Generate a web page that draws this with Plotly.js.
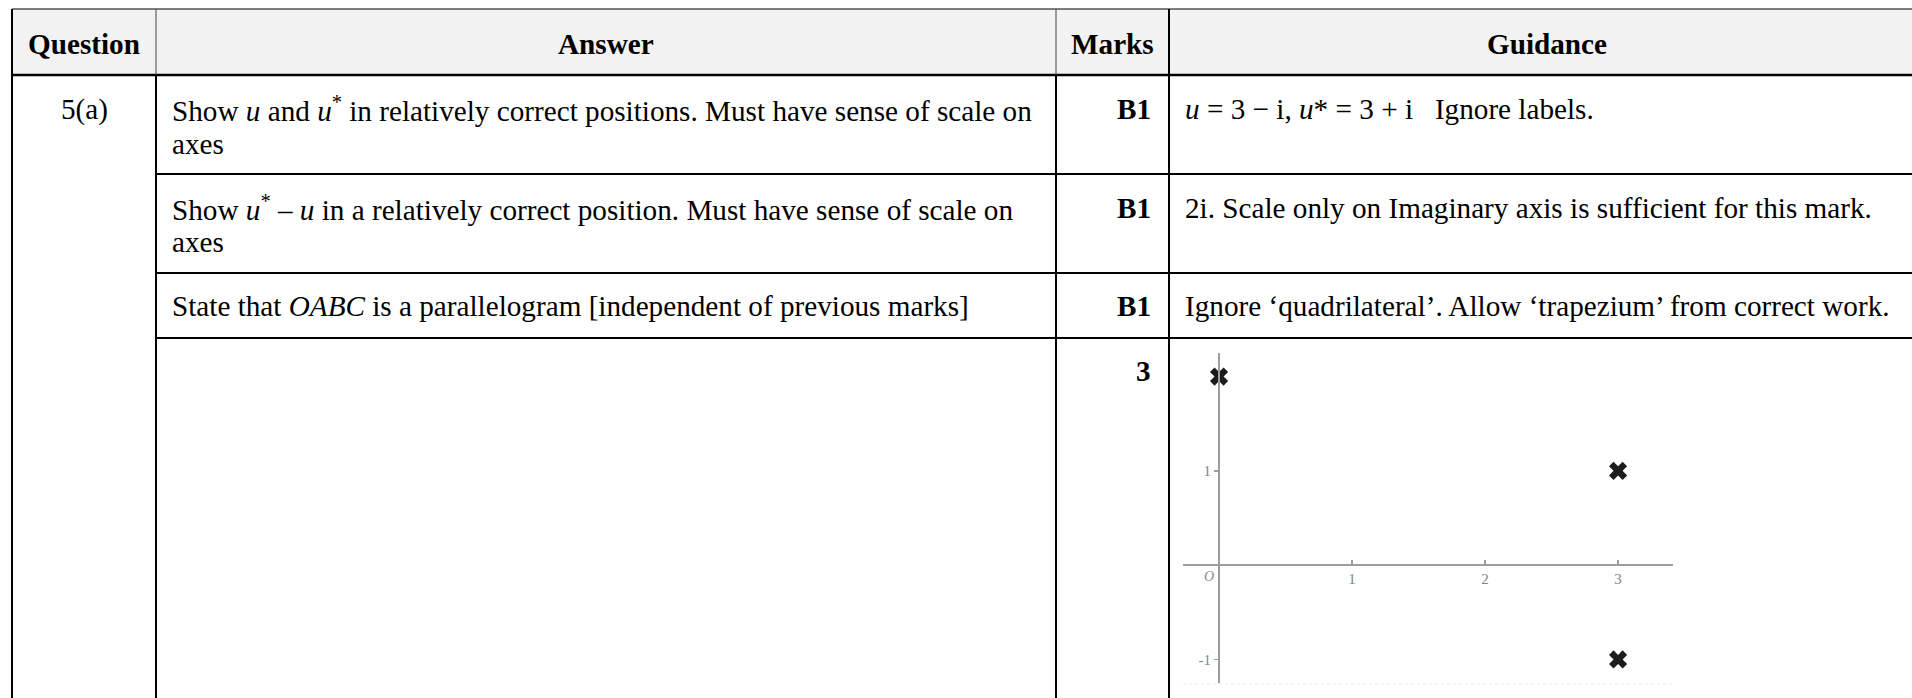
<!DOCTYPE html>
<html>
<head>
<meta charset="utf-8">
<script src="https://cdn.plot.ly/plotly-3.0.1.min.js"></script>
<style>
  html, body { margin: 0; padding: 0; background: #ffffff; }
  #chart { width: 1912px; height: 698px; }
</style>
</head>
<body>
<div id="chart"></div>
<script>
// Argand diagram points: u* - u = 2i, u* = 3 + i, u = 3 - i
const pointRe = [0, 3, 3];
const pointIm = [2, 1, -1];

const xTickVals = [1, 2, 3];
const xTickText = ["1", "2", "3"];
const yTickVals = [1, -1];
const yTickText = ["1", "-1"];

const headers = ["Question", "Answer", "Marks", "Guidance"];
const questionLabel = "5(a)";
const answerLines = [
    ["Show <i>u</i> and <i>u</i><sup>*</sup> in relatively correct positions. Must have sense of scale on", "axes"],
    ["Show <i>u</i><sup>*</sup> \u2013 <i>u</i> in a relatively correct position. Must have sense of scale on", "axes"],
    ["State that <i>OABC</i> is a parallelogram [independent of previous marks]"],
];
const marks = ["B1", "B1", "B1", "3"];
const guidance = [
    "<i>u</i> = 3 \u2212 i, <i>u</i>* = 3 + i\u00a0\u00a0\u00a0Ignore labels.",
    "2i. Scale only on Imaginary axis is sufficient for this mark.",
    "Ignore \u2018quadrilateral\u2019. Allow \u2018trapezium\u2019 from correct work.",
];

const W = 1912, H = 698;
const SERIF = "'Liberation Serif', 'Times New Roman', serif";
const FS = 29.2;
const fx = p => p / W;
const fy = p => 1 - p / H;

// table grid in pixels
const colX = [12, 156, 1056, 1169];
const rowY = [9, 75, 174, 273, 338];
const rightEdge = W;

function hline(y, x0, x1, w) {
    return { type: "line", xref: "paper", yref: "paper", x0: fx(x0), x1: fx(x1), y0: fy(y), y1: fy(y),
        line: { color: "#000", width: w } };
}
function vline(x, y0, y1, w, color) {
    return { type: "line", xref: "paper", yref: "paper", x0: fx(x), x1: fx(x), y0: fy(y0), y1: fy(y1),
        line: { color: color || "#000", width: w } };
}
function txt(text, x, y, anchor, bold) {
    return {
        xref: "paper", yref: "paper", x: fx(x), y: fy(y), text: bold ? "<b>" + text + "</b>" : text,
        xanchor: anchor, yanchor: "middle", showarrow: false,
        font: { family: SERIF, size: FS, color: "#000" },
    };
}

const shapes = [
    { type: "rect", xref: "paper", yref: "paper", x0: fx(colX[0]), x1: fx(rightEdge), y0: fy(rowY[0]), y1: fy(rowY[1]),
        fillcolor: "#f2f2f2", line: { width: 0 }, layer: "below" },
    hline(rowY[0], colX[0], rightEdge, 1.2),
    hline(rowY[1], colX[0], rightEdge, 2.5),
    hline(rowY[2], colX[1], rightEdge, 2),
    hline(rowY[3], colX[1], rightEdge, 2),
    hline(rowY[4], colX[1], rightEdge, 2),
    vline(colX[0], rowY[0], H, 2),
    vline(colX[1], rowY[0], rowY[1], 1, "#444"),
    vline(colX[1], rowY[1], H, 2),
    vline(colX[2], rowY[0], rowY[1], 1, "#444"),
    vline(colX[2], rowY[1], H, 2),
    vline(colX[3], rowY[0], H, 2),
    // faint edge of the embedded picture
    { type: "line", xref: "paper", yref: "paper", x0: fx(1183), x1: fx(1673), y0: fy(684), y1: fy(684),
        line: { color: "#ececec", width: 1, dash: "dot" } },
];

const headerCenters = [(colX[0] + colX[1]) / 2, (colX[1] + colX[2]) / 2, (colX[2] + colX[3]) / 2, 1547];
const annotations = headers.map((h, i) => txt(h, headerCenters[i], 44, "center", true));
annotations.push(txt(questionLabel, headerCenters[0], 109, "center", false));

const rowLineY = [[109, 144], [208, 242], [306]];
answerLines.forEach((lines, r) => {
    lines.forEach((line, k) => annotations.push(txt(line, 170, rowLineY[r][k], "left", false)));
});
const marksY = [109, 208, 306, 371];
marks.forEach((m, r) => annotations.push(txt(m, 1153, marksY[r], "right", true)));
guidance.forEach((g, r) => annotations.push(txt(g, 1183, marksY[r], "left", false)));

// origin label on the diagram
annotations.push({
    xref: "x", yref: "y", x: 0, y: 0, text: "<i>O</i>", showarrow: false,
    xanchor: "right", yanchor: "top", xshift: -3, yshift: -2,
    font: { family: SERIF, size: 14, color: "#8a8a8a" },
});

const axisColor = "#9d9d9d";
const tickFont = { family: SERIF, size: 15, color: "#858585" };

const data = [{
    type: "scatter",
    mode: "markers",
    x: pointRe,
    y: pointIm,
    marker: { symbol: "x", size: 16, color: "#1c1c1c", line: { width: 0 } },
    hoverinfo: "skip",
}];

const layout = {
    width: W,
    height: H,
    margin: { l: 0, r: 0, t: 0, b: 0, pad: 0 },
    paper_bgcolor: "#ffffff",
    plot_bgcolor: "rgba(0,0,0,0)",
    showlegend: false,
    xaxis: {
        domain: [fx(1183), fx(1673)],
        range: [-0.271, 3.413],
        anchor: "free",
        position: fy(565),
        showline: true, linecolor: axisColor, linewidth: 2,
        showgrid: false, zeroline: false,
        tickvals: xTickVals, ticktext: xTickText,
        ticks: "inside", ticklen: 4, tickwidth: 1.5, tickcolor: axisColor,
        tickfont: tickFont,
        fixedrange: true,
    },
    yaxis: {
        domain: [fy(683), fy(353)],
        range: [-1.25, 2.25],
        anchor: "free",
        position: fx(1219),
        showline: true, linecolor: axisColor, linewidth: 2,
        showgrid: false, zeroline: false,
        tickvals: yTickVals, ticktext: yTickText,
        ticks: "outside", ticklen: 4, tickwidth: 1.5, tickcolor: axisColor,
        tickfont: tickFont,
        fixedrange: true,
    },
    shapes: shapes,
    annotations: annotations,
};

const config = {
    displayModeBar: false,
    staticPlot: true,
};

Plotly.newPlot("chart", data, layout, config);
</script>
</body>
</html>
